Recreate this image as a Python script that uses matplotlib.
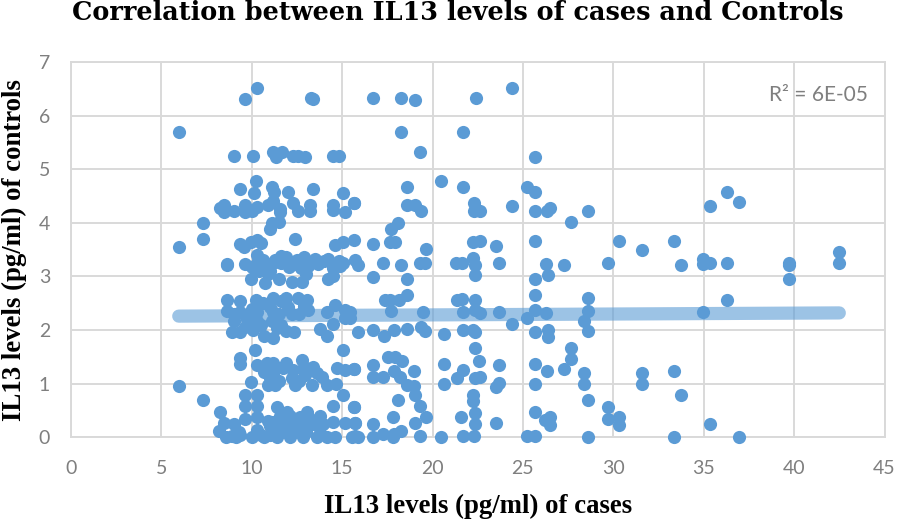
import matplotlib
matplotlib.use('Agg')
import matplotlib.pyplot as plt

# values, grouped by band of the controls axis
x_top = [10.27, 9.61, 13.27, 13.38, 5.96, 8.99, 10.09, 11.2, 11.66, 11.35, 12.27, 12.53, 12.93, 14.52, 14.8,
         16.7, 18.27, 19.02, 22.38, 24.4, 18.25, 21.66, 19.33, 25.65, 20.48, 21.66, 25.25, 25.65, 18.6,
         10.22, 9.37, 10.13, 11.13, 11.24, 12.01, 13.38, 15.04, 35.37, 36.27, 36.94]
y_top = [6.51, 6.31, 6.32, 6.31, 5.70, 5.24, 5.24, 5.33, 5.33, 5.22, 5.24, 5.24, 5.22, 5.24, 5.24,
         6.32, 6.32, 6.30, 6.32, 6.51, 5.70, 5.70, 5.33, 5.22, 4.78, 4.66, 4.66, 4.57, 4.66,
         4.78, 4.63, 4.55, 4.66, 4.58, 4.58, 4.63, 4.55, 4.32, 4.57, 4.39]

x_four = [15.63, 8.25, 8.47, 8.47, 8.99, 9.61, 9.61, 10.0, 10.28, 10.87, 11.2, 11.57, 11.57, 12.27, 12.53,
          13.23, 13.23, 14.52, 14.52, 15.18, 15.66, 18.58, 19.02, 19.37, 22.3, 22.3, 22.6, 24.4, 25.65,
          26.33, 26.5, 27.68, 28.62, 7.32, 11.48, 11.14, 11.0, 18.08, 17.7]
y_four = [4.37, 4.27, 4.33, 4.21, 4.23, 4.33, 4.20, 4.23, 4.29, 4.33, 4.40, 4.26, 4.20, 4.37, 4.23,
          4.33, 4.23, 4.33, 4.24, 4.20, 4.37, 4.33, 4.34, 4.22, 4.37, 4.22, 4.23, 4.32, 4.23,
          4.23, 4.27, 4.02, 4.23, 3.99, 4.02, 4.00, 3.89, 3.99, 3.89]

x_three = [7.32, 5.96, 9.35, 9.55, 10.28, 9.95, 10.5, 12.4, 14.6, 15.04, 15.66, 17.62, 17.93, 16.7, 19.65,
           22.26, 22.6, 23.53, 25.65, 30.3, 31.6, 33.36, 42.5, 42.5,
           8.62, 8.62, 9.6, 10.0, 10.28, 10.83, 11.29, 11.9, 12.3, 12.9, 13.32, 13.69, 14.24, 15.07, 15.72,
           14.52, 14.52, 14.24, 9.94, 10.74, 10.92, 11.48, 12.21, 12.77, 10.28, 11.6, 12.05, 12.6, 13.1, 14.8,
           15.9, 17.25, 18.27, 19.33, 19.6, 21.3, 21.62, 22.26, 22.36, 22.36, 23.67, 26.27, 27.25, 29.68,
           16.7, 18.6, 25.65, 26.38, 33.75, 34.95, 34.95, 35.37, 36.27, 39.71, 39.71, 39.71,
           10.6, 11.0, 11.6, 12.5, 12.7, 13.5, 14.0, 11.2, 13.0, 14.9, 10.4]
y_three = [3.70, 3.55, 3.60, 3.55, 3.68, 3.65, 3.62, 3.69, 3.58, 3.65, 3.68, 3.65, 3.65, 3.60, 3.52,
           3.65, 3.66, 3.56, 3.66, 3.66, 3.50, 3.66, 3.46, 3.25,
           3.24, 3.21, 3.24, 3.18, 3.25, 3.21, 3.30, 3.37, 3.24, 3.37, 3.27, 3.24, 3.32, 3.25, 3.30,
           3.15, 3.00, 2.95, 2.96, 2.87, 3.04, 2.96, 2.89, 2.89, 3.40, 3.25, 3.18, 3.22, 3.20, 3.28,
           3.21, 3.25, 3.22, 3.26, 3.26, 3.25, 3.26, 3.34, 3.21, 3.02, 3.25, 3.24, 3.22, 3.26,
           2.99, 2.96, 2.96, 3.02, 3.21, 3.32, 3.24, 3.26, 3.26, 3.25, 3.21, 2.96,
           3.30, 3.10, 3.38, 3.30, 3.15, 3.33, 3.28, 3.25, 3.05, 3.20, 3.10]

x_two = [8.62, 9.37, 10.24, 11.2, 11.9, 12.53, 13.04, 11.01, 14.6, 15.17, 14.15, 8.62, 9.35, 10.28, 8.99, 9.91,
         11.2, 12.0, 12.6, 13.1, 15.17, 14.52, 11.11, 10.28, 15.44, 15.44,
         8.89, 9.37, 10.09, 10.65, 11.2, 11.38, 11.9, 12.36, 13.78, 14.15, 15.85,
         17.38, 17.66, 18.12, 18.58, 17.7, 19.46, 21.66, 21.35, 21.62, 22.36, 22.36, 22.6, 23.67, 24.4, 25.25,
         25.65, 26.27, 25.65, 28.58, 28.58, 28.35, 28.62, 16.7, 17.29, 17.84, 18.58, 19.35, 19.6, 20.63,
         21.66, 22.26, 22.36, 25.65, 26.38, 26.38, 36.27, 34.95,
         9.0, 9.7, 10.0, 11.5, 12.2, 12.9, 11.6, 10.6, 9.6, 10.5, 11.6]
y_two = [2.56, 2.54, 2.56, 2.59, 2.59, 2.59, 2.57, 2.43, 2.47, 2.37, 2.33, 2.36, 2.34, 2.34, 2.16, 2.16,
         2.34, 2.43, 2.30, 2.38, 2.22, 2.12, 2.16, 2.16, 2.33, 2.22,
         1.97, 1.97, 2.00, 1.89, 1.86, 2.03, 1.98, 1.97, 2.02, 1.89, 1.97,
         2.57, 2.57, 2.56, 2.65, 2.35, 2.33, 2.33, 2.56, 2.58, 2.57, 2.37, 2.31, 2.33, 2.12, 2.22,
         2.37, 2.32, 2.65, 2.59, 2.36, 2.16, 1.99, 2.01, 1.89, 2.00, 2.02, 2.06, 1.98, 1.92,
         2.01, 2.01, 1.97, 1.97, 2.00, 1.88, 2.56, 2.33,
         2.30, 2.25, 2.40, 2.30, 2.30, 2.45, 2.55, 2.50, 2.05, 2.10, 2.10]

x_one = [10.18, 15.04, 9.37, 9.37, 10.28, 10.85, 11.2, 11.9, 12.77, 13.38, 12.85, 14.7, 15.17, 15.63, 10.65, 11.2,
         12.3, 12.95, 13.87, 14.15, 14.67, 10.92, 11.29, 12.4, 13.32, 9.94, 5.96,
         22.36, 22.58, 20.63, 23.67, 21.66, 21.35, 22.36, 22.64, 20.63, 23.67, 23.5, 25.65, 25.65, 26.33, 27.25,
         27.68, 27.68, 28.35, 28.35, 31.6, 31.6, 15.66, 16.7, 16.7, 17.25, 17.56, 17.93, 18.3, 17.84, 18.2, 18.99,
         18.58, 18.99, 33.36,
         11.0, 11.7, 12.2, 13.0, 11.0, 12.6, 13.6, 11.5]
y_one = [1.63, 1.63, 1.47, 1.36, 1.35, 1.38, 1.38, 1.38, 1.44, 1.32, 1.28, 1.29, 1.25, 1.27, 1.22, 1.19,
         1.25, 1.16, 1.13, 0.98, 1.00, 0.98, 0.98, 0.98, 0.98, 1.03, 0.96,
         1.66, 1.42, 1.36, 1.34, 1.25, 1.10, 1.10, 1.12, 0.99, 1.02, 0.94, 1.36, 0.99, 1.24, 1.27,
         1.66, 1.46, 1.20, 0.99, 1.20, 0.99, 1.27, 1.35, 1.13, 1.12, 1.49, 1.49, 1.43, 1.24, 1.13, 1.24,
         0.98, 0.96, 1.24,
         1.10, 1.30, 1.10, 1.30, 1.30, 1.05, 1.20, 1.05]

x_low = [7.32, 8.25, 9.61, 10.28, 9.61, 10.28, 15.04, 11.38, 14.52, 15.63, 11.94, 13.04, 9.61, 10.28, 8.47, 8.99, 8.21,
         13.78, 14.52, 15.17, 15.72, 11.2, 11.57, 12.3, 12.65, 13.4, 13.95, 10.28, 12.0, 11.0, 12.95,
         18.08, 19.02, 19.33, 15.66, 22.24, 22.24, 22.36, 22.36, 21.6, 23.5, 25.65, 26.24, 26.5, 26.5, 28.58,
         29.68, 29.68, 30.3, 30.3, 17.79, 16.7, 15.72, 19.02, 19.65, 18.25, 33.75, 35.37,
         11.6, 12.1, 12.7, 13.2, 10.9, 9.3, 10.5, 11.0, 11.6, 12.4, 13.0, 13.8, 9.1, 14.6]
y_low = [0.70, 0.47, 0.79, 0.79, 0.59, 0.59, 0.79, 0.57, 0.59, 0.57, 0.48, 0.47, 0.34, 0.37, 0.26, 0.25, 0.12,
         0.39, 0.29, 0.26, 0.26, 0.29, 0.40, 0.32, 0.38, 0.25, 0.25, 0.14, 0.20, 0.22, 0.30,
         0.70, 0.78, 0.59, 0.57, 0.78, 0.68, 0.45, 0.24, 0.37, 0.26, 0.47, 0.32, 0.37, 0.23, 0.70,
         0.57, 0.35, 0.37, 0.23, 0.37, 0.24, 0.26, 0.26, 0.37, 0.12, 0.79, 0.24,
         0.25, 0.40, 0.25, 0.35, 0.30, 0.10, 0.05, 0.05, 0.12, 0.12, 0.10, 0.08, 0.00, 0.01]

x_zero = [8.56, 8.9, 9.37, 10.0, 10.65, 11.38, 12.12, 12.85, 13.6, 14.15, 15.72, 15.53, 15.9, 16.7, 17.25, 17.84, 17.79,
          19.33, 20.48, 21.66, 22.32, 25.22, 25.65, 28.62, 33.36, 36.94]
y_zero = [0.01, 0.02, 0.04, 0.01, 0.01, 0.01, 0.01, 0.01, 0.01, 0.01, 0.02, 0.01, 0.01, 0.01, 0.07, 0.07, 0.01,
          0.02, 0.01, 0.02, 0.02, 0.02, 0.02, 0.01, 0.01, 0.01]

cases = x_top + x_four + x_three + x_two + x_one + x_low + x_zero
controls = y_top + y_four + y_three + y_two + y_one + y_low + y_zero

# trend line ends
trend_x = [5.96, 42.5]
trend_y = [2.26, 2.32]

xticks = [0, 5, 10, 15, 20, 25, 30, 35, 40, 45]
yticks = [0, 1, 2, 3, 4, 5, 6, 7]

W, H = 898, 524
fig = plt.figure(figsize=(W / 100, H / 100), dpi=100)
ax = fig.add_axes([71 / W, 1 - 437.3 / H, (884.5 - 71) / W, (437.3 - 62) / H])

ax.scatter(cases, controls, s=90, color='#5b9bd5', linewidths=0, clip_on=False, zorder=3)
ax.plot(trend_x, trend_y, color='#5b9bd5', alpha=0.6, lw=9.5, solid_capstyle='round', zorder=2.5)

ax.set_xlim(0, 45)
ax.set_ylim(0, 7)
ax.set_xticks(xticks)
ax.set_yticks(yticks)
ax.grid(True, color='#d9d9d9', lw=1.4, zorder=0)
ax.set_axisbelow(True)
for s in ax.spines.values():
    s.set_color('#d9d9d9')
    s.set_linewidth(1.4)
ax.tick_params(axis='x', length=0, labelsize=14, labelcolor='#7f7f7f', pad=16)
ax.tick_params(axis='y', length=0, labelsize=14, labelcolor='#7f7f7f', pad=15)
for lab in ax.get_xticklabels() + ax.get_yticklabels():
    lab.set_family('Lato')

ax.text(0.979, 0.913, 'R² = 6E-05', transform=ax.transAxes, ha='right', va='center',
        fontsize=15, color='#7f7f7f', family='Lato')

fig.text(458 / W, 1 - 13 / H, 'Correlation between IL13 levels of cases and Controls', ha='center', va='center',
         fontsize=18.4, fontweight='bold', family='DejaVu Serif')
fig.text(478 / W, 1 - 506 / H, 'IL13 levels (pg/ml) of cases', ha='center', va='center',
         fontsize=19.3, fontweight='bold', family='Liberation Serif')
fig.text(14 / W, 1 - 250 / H, 'IL13 levels (pg/ml) of controls', ha='center', va='center', rotation=90,
         fontsize=19.3, fontweight='bold', family='Liberation Serif')

fig.savefig('out.png', dpi=100)
